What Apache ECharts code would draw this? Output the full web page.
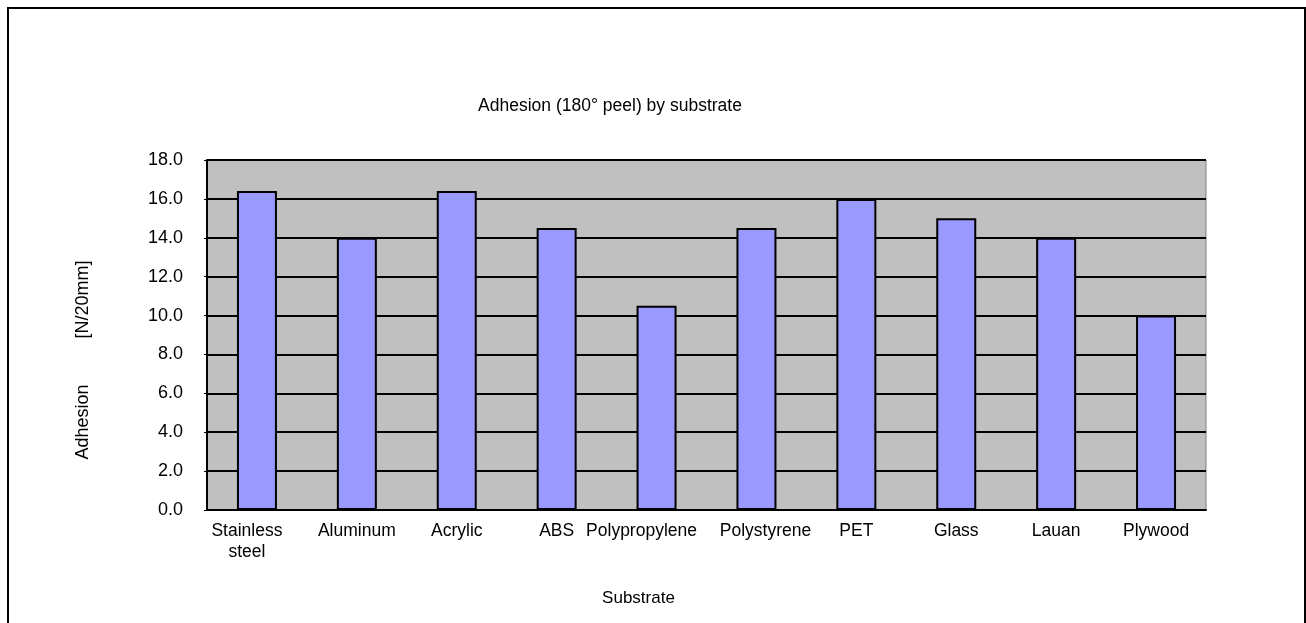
<!DOCTYPE html>
<html>
<head>
<meta charset="utf-8">
<script src="https://cdn.jsdelivr.net/npm/echarts@6/dist/echarts.min.js"></script>
<style>
  html, body { margin: 0; padding: 0; background: #fff; }
  #frame { position: absolute; left: 7px; top: 7px; width: 1295px; height: 620px; border: 2px solid #000; border-bottom: none; }
  #chart { position: absolute; left: 0; top: 0; width: 1306px; height: 623px; }
</style>
</head>
<body>
<div id="frame"></div>
<div id="chart"></div>
<script>
const substrates = ['Stainless\nsteel', 'Aluminum', 'Acrylic', 'ABS', 'Polypropylene', 'Polystyrene', 'PET', 'Glass', 'Lauan', 'Plywood'];
const adhesion = [16.4, 14.0, 16.4, 14.5, 10.5, 14.5, 16.0, 15.0, 14.0, 10.0];

const font = "'Liberation Sans', Arial, sans-serif";
const lbl = { fontFamily: font, fontSize: 17.5, color: '#000', lineHeight: 21 };

// nudge the crowded labels apart like the original does
function xLabel(v) {
  if (v === 'Stainless\nsteel') return v.split('\n').map(s => '{a|' + s + '}').join('\n');
  if (v === 'Polypropylene') return '{b|' + v + '}';
  if (v === 'Polystyrene') return '{c|' + v + '}';
  return v;
}

const chart = echarts.init(document.getElementById('chart'));
chart.setOption({
  animation: false,
  title: {
    text: 'Adhesion (180° peel) by substrate',
    left: 605,
    top: 92,
    textAlign: 'center',
    textStyle: { fontFamily: font, fontSize: 17.5, fontWeight: 'normal', color: '#000' }
  },
  grid: {
    left: 207, right: 100, top: 160, bottom: 113,
    show: true,
    backgroundColor: '#C0C0C0',
    borderColor: '#808080',
    borderWidth: 1
  },
  xAxis: {
    type: 'category',
    data: substrates,
    name: 'Substrate',
    nameLocation: 'middle',
    nameGap: 80,
    nameTextStyle: { fontFamily: font, fontSize: 17, color: '#000', padding: [0, 136, 0, 0] },
    axisLine: { lineStyle: { color: '#000', width: 2 } },
    axisTick: { inside: true, length: 5, lineStyle: { color: '#000' } },
    axisLabel: {
      fontFamily: font, fontSize: 17.5, color: '#000', margin: 11, lineHeight: 21, interval: 0,
      formatter: xLabel,
      rich: {
        a: Object.assign({ padding: [0, 20, 0, 0] }, lbl),
        b: Object.assign({ padding: [0, 30, 0, 0] }, lbl),
        c: Object.assign({ padding: [0, 0, 0, 18] }, lbl)
      }
    }
  },
  yAxis: {
    type: 'value',
    min: 0, max: 18, interval: 2,
    name: 'Adhesion　　  [N/20mm]',
    nameLocation: 'middle',
    nameRotate: 90,
    nameGap: 115,
    nameTextStyle: { fontFamily: font, fontSize: 18, color: '#000', padding: [0, 50, 0, 0] },
    axisLine: { show: true, lineStyle: { color: '#000', width: 2 } },
    axisTick: { show: true, length: 3, lineStyle: { color: '#000' } },
    axisLabel: { fontFamily: font, fontSize: 18, color: '#000', margin: 24, formatter: v => v.toFixed(1) },
    splitLine: { lineStyle: { color: '#000', width: 2 } }
  },
  series: [{
    type: 'bar',
    data: adhesion,
    barWidth: 40,
    itemStyle: { color: '#9999FF', borderColor: '#000', borderWidth: 2 }
  }]
});
</script>
</body>
</html>
